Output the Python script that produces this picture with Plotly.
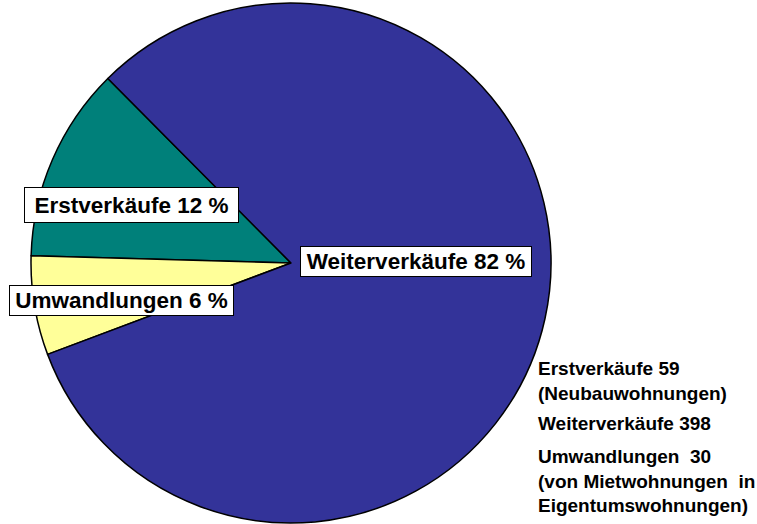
import plotly.graph_objects as go

# Data
categories = ["Erstverkäufe", "Umwandlungen", "Weiterverkäufe"]
counts = [59, 30, 398]
percent_labels = ["Erstverkäufe 12 %", "Umwandlungen 6 %", "Weiterverkäufe 82 %"]
colors = ["#00807A", "#FFFF99", "#333399"]
side_texts = [
    "Erstverkäufe 59<br>(Neubauwohnungen)",
    "Weiterverkäufe 398",
    "Umwandlungen  30<br>(von Mietwohnungen  in<br>Eigentumswohnungen)",
]

W, H = 757, 524
FONT = "Liberation Sans, Arial, sans-serif"

fig = go.Figure(go.Pie(
    labels=categories,
    values=counts,
    sort=False,
    direction="counterclockwise",
    rotation=-88.4,
    marker=dict(colors=colors, line=dict(color="black", width=1.5)),
    textinfo="none",
    hoverinfo="label+value+percent",
    domain=dict(x=[31 / W, 551 / W], y=[1 - 523 / H, 1 - 3 / H]),
    showlegend=False,
))

# Boxed percentage labels (center px, box width, box height)
box_specs = [
    (131.5, 205, 211, 32),
    (121.5, 300.5, 221, 27),
    (416, 261.5, 228, 27),
]
for txt, (cx, cy, bw, bh) in zip(percent_labels, box_specs):
    fig.add_annotation(
        x=cx / W, y=1 - cy / H, xref="paper", yref="paper",
        xanchor="center", yanchor="middle",
        text="<b>" + txt + "</b>", showarrow=False,
        font=dict(family=FONT, size=22.5, color="black"),
        bgcolor="white", bordercolor="black", borderwidth=1, borderpad=1,
        width=bw, height=bh, align="center",
    )

# Right side descriptive texts (left x px, top y px)
side_pos = [(536, 356), (536, 411), (536, 444)]
for txt, (lx, ty) in zip(side_texts, side_pos):
    fig.add_annotation(
        x=lx / W, y=1 - ty / H, xref="paper", yref="paper",
        xanchor="left", yanchor="top", align="left",
        text="<b>" + txt + "</b>", showarrow=False,
        font=dict(family=FONT, size=19, color="black"),
    )

fig.update_layout(
    width=W, height=H,
    margin=dict(l=0, r=0, t=0, b=0),
    paper_bgcolor="white", plot_bgcolor="white",
)

fig.write_html(
    "out.html",
    config={"displayModeBar": False},
    post_script="document.body.style.margin='0';document.body.style.overflow='hidden';",
)
